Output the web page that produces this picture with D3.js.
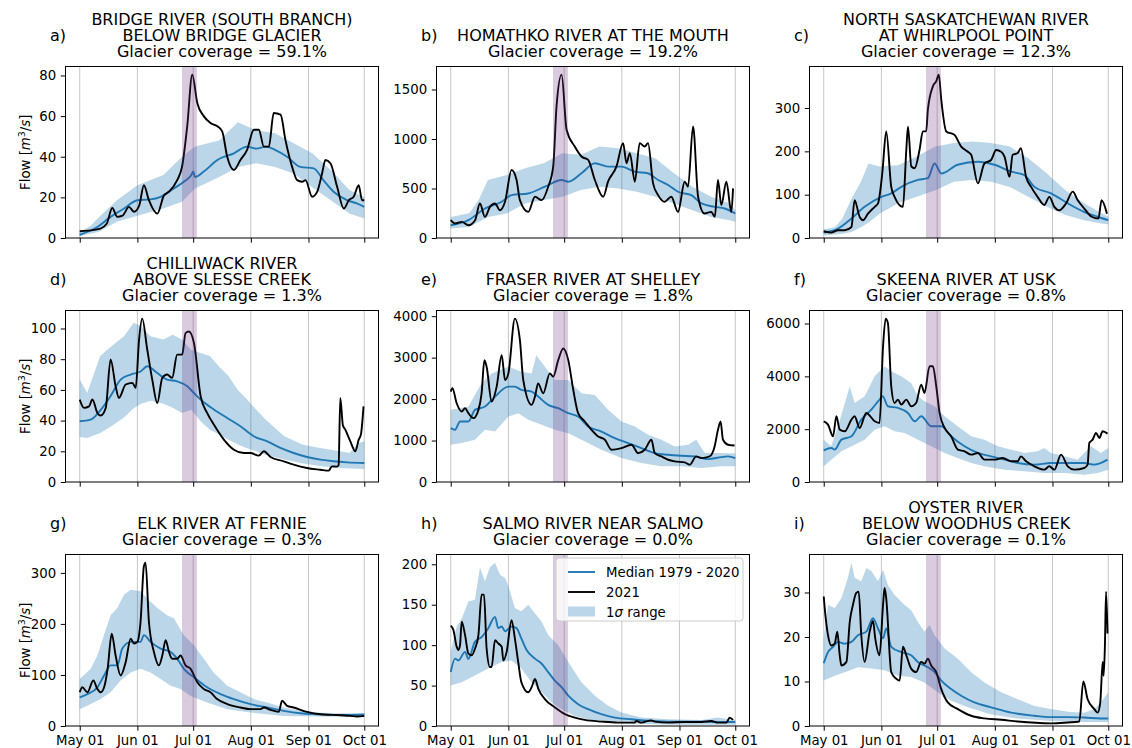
<!DOCTYPE html>
<html>
<head>
<meta charset="utf-8">
<script src="https://cdn.jsdelivr.net/npm/d3@7"></script>
<style>
  body { margin: 0; background: #fff; }
  svg { font-family: "DejaVu Sans", sans-serif; }
  .tick text { font-family: "DejaVu Sans", sans-serif; font-size: 13.3px; fill: #000; }
  .tick line { stroke: #000; stroke-width: 1; }
</style>
</head>
<body>
<svg id="chart" width="1132" height="748"></svg>
<script>
"use strict"

// days counted from May 01 2021, values in m3/s
// a) Bridge River
const medA = [[0,1.6],[9.5,5.4],[16.6,10.4],[23.8,14.5],[31,18.6],[38,19],[43.5,20.3],[50.6,24.4],[56,27.7],[60,31],[61,32.7],[62,30],[66.7,32.7],[74,38.4],[82.9,41.7],[90,45],[95,44],[100,45],[105,43.4],[111.5,40],[118.6,35],[125.8,34.3],[131,28.5],[136.5,22.8],[143.7,18.6],[149,17],[153,15.3]];
const hiA = [[0,3],[6,6],[10,10],[20,18.6],[31,26],[45,31],[55,40],[62,45],[75,48],[85,57],[95,53],[105,51.6],[115,46.7],[125,41.7],[135,33.5],[145,23.6],[153,20]];
const loA = [[0,1],[10,3],[20,8],[31,11],[45,14.5],[55,17.8],[62,24.4],[75,30],[85,35],[95,36.8],[105,35],[115,31.8],[125,25],[135,18.6],[145,12],[153,9.6]];
const obsA = [[0,3.3],[7.7,4],[11,4.6],[14.5,7],[17.5,14.8],[20.2,10.4],[23,11],[26.5,15.3],[29.2,12.9],[32,16],[34.5,26],[37.2,18.6],[41.7,12],[45.3,21],[48,22.8],[52.4,28.5],[55,35],[57.8,55],[60.5,80.4],[63.2,66.5],[66.7,60],[70.3,56.6],[74,55],[76.6,52.5],[79.3,40],[82.9,33.5],[86.4,38.4],[90,43.4],[93.6,53.3],[96.3,53.3],[99,45],[101.7,45],[104.3,61.5],[108,60.7],[110.6,48.3],[114.2,35],[116.9,28.5],[119.6,27.7],[121.4,28.5],[125,20.3],[127.7,22.8],[130.3,31.8],[132.1,38.4],[134.8,36.8],[138.4,25.2],[142,14.5],[144.7,18.6],[147.3,20.3],[150,26],[151.8,18.6],[153,18.6]];

// b) Homathko River
const medB = [[0,129],[9.5,180],[18.4,298],[27.4,366],[32.7,433],[41.7,450],[50.6,518],[59.6,586],[63.2,569],[70.3,654],[77.5,755],[84.6,721],[91.8,721],[99,670],[106,654],[111.5,586],[116.9,535],[122.2,467],[129.4,433],[134.8,349],[141.9,315],[147.3,298],[153,247]];
const hiB = [[0,213],[10,250],[15,383],[20,586],[30,637],[40,704],[50,755],[60,857],[70,840],[80,924],[90,907],[100,857],[110,806],[120,654],[130,518],[140,417],[150,349],[153,281]];
const loB = [[0,95],[10,112],[20,213],[30,247],[40,349],[50,383],[60,417],[70,484],[80,518],[90,501],[100,467],[110,417],[120,349],[130,281],[140,213],[150,180],[153,163]];
const obsB = [[0,180],[2.3,146],[5.9,163],[9.5,129],[13.1,180],[15.7,349],[18.4,213],[21.1,315],[23.8,349],[26.5,281],[29.2,366],[32.7,687],[35.4,586],[37.2,383],[41.7,264],[45.3,417],[48.9,383],[52.4,518],[55.1,721],[56.9,1331],[59.6,1650],[62.3,1094],[66.7,924],[70.3,823],[73.9,789],[77.5,586],[82,417],[84.6,569],[89.1,721],[92.7,958],[94.5,755],[96.3,857],[99,569],[101.6,958],[104.3,924],[106.1,958],[108.8,552],[111.5,433],[115,366],[118.6,417],[122.2,264],[125.8,569],[127.6,518],[130.3,1128],[133,417],[136.5,247],[140.1,264],[142,213],[143.7,586],[145.5,332],[148.2,569],[150.9,264],[151.8,501]];

// c) North Saskatchewan River
const medC = [[0,12.4],[7.7,21.6],[14.9,45],[22,72],[31,95],[36.3,103],[41.7,118],[50.6,134],[56,138],[59.6,172],[63.2,149],[72,169],[82.9,176],[91.8,169],[100.8,153],[107.9,145],[113.3,118],[122.2,103],[131.2,80],[140.1,60],[147.3,49],[153,41]];
const hiC = [[0,20],[6,25],[10,45],[15,91],[20,130],[24,172],[30,165],[40,168],[50,188],[60,211],[70,219],[80,223],[90,219],[100,211],[110,184],[120,149],[130,110],[140,80],[150,56],[153,49]];
const loC = [[0,6],[6,8],[10,10],[15,14],[20,25],[24,35],[30,56],[40,80],[50,95],[60,110],[70,130],[80,134],[90,130],[100,118],[110,95],[120,72],[130,53],[140,41],[150,33],[153,32]];
const obsC = [[0,15.5],[4.1,12.4],[7.7,18],[11.3,18],[14.9,25.5],[16.6,87],[19.3,49],[21.1,41],[23.8,56],[27.4,72],[29.2,80],[31.5,150],[33.6,246],[36.3,118],[38.1,95],[42.6,72],[44.4,203],[45.3,257],[47.1,165],[48.9,161],[51.5,203],[53.3,246],[55.1,246],[56,296],[58.7,350],[60.5,362],[61.9,377],[63.2,319],[65.9,246],[70.3,238],[73.9,211],[77.5,199],[79.3,192],[82.9,126],[86.4,172],[90,180],[92.7,203],[95.4,199],[97.2,188],[99.9,141],[101.6,192],[104.3,196],[106,207],[108.8,141],[111.5,118],[115,95],[118.6,76],[121.3,95],[124,72],[126.7,64],[130.3,80],[133.9,107],[136.6,87],[140.1,68],[144.1,49],[147.7,45],[149.4,87],[152.3,56]];

// d) Chilliwack River
const medD = [[0,39.6],[5.9,40.6],[11.3,47],[16.6,56],[22,66.7],[27.4,70],[32.7,72],[36.3,75.4],[41.7,71],[47,66.7],[52.4,65.6],[57.8,62.4],[61.4,58],[65,53.7],[72.1,47.2],[79.3,41.7],[86.4,36.3],[93.6,29.8],[100.8,26.5],[107.9,22.2],[115,18.9],[122.2,16.3],[129.4,14.6],[136.5,13.5],[143.7,12.8],[153,12.4]];
const hiD = [[0,66.7],[4,58],[11,82],[16.6,88],[23.8,95],[29,103.7],[33,101.5],[38,95],[45,92.8],[50,96],[55,92.8],[60,86],[65,84],[70,82],[75,75],[80,69],[85,60],[90,53.7],[95,47],[100,40.6],[110,29.8],[120,24.3],[130,22],[140,20],[145,18.9],[150,25.4],[153,26.5]];
const loD = [[0,29.3],[4,28.7],[11,32],[16.6,36],[23.8,42],[29,48],[33,51],[38,53],[45,51],[50,48.3],[55,45],[60,47],[65,39.6],[70,34],[75,31],[80,27.6],[85,24.5],[90,22],[95,20],[100,17.8],[110,14.6],[120,12],[130,10.2],[140,9.1],[145,8.8],[150,8.6],[153,8.5]];
const obsD = [[0,53.7],[2.3,48.3],[5,49.3],[6.8,53.7],[9.5,45],[11.3,43.3],[14,48.3],[16.6,79.8],[19.3,62.4],[21.1,54.8],[24.7,63.5],[28.3,64.6],[30.1,61.3],[31.9,92.8],[33.6,106.4],[36.3,86.3],[39,66.7],[41.7,51.5],[44.4,67.8],[47,70],[49.7,67.8],[52.4,83],[55.1,83],[56.9,97],[58.7,98],[61.4,90.7],[65,55.9],[68.5,45],[72.1,37.4],[77.5,27.6],[82.9,21],[88.2,18.9],[91.8,18.9],[96.3,17.2],[99,20],[102.6,16.3],[109.7,13.5],[115,11.3],[122.2,9.1],[129.4,8],[133.9,7.4],[135.6,10.2],[138.3,10],[139.2,11],[140.1,54.8],[141.5,37],[142.8,34.1],[145.5,26.5],[148.2,20],[150,27.6],[151.2,31],[152.6,49.3]];

// e) Fraser River
const medE = [[0,1299],[2.3,1259],[5,1459],[9.5,1459],[13,1739],[18.4,1820],[23.8,2060],[31,2300],[34.5,2300],[38,2220],[43.5,2180],[47,2060],[52.4,1860],[57.8,1780],[63.2,1659],[68.5,1579],[73.9,1339],[81,1218],[88.2,1058],[95.4,938],[102.5,818],[109.7,697],[116.9,657],[124,633],[131.2,617],[138.4,553],[145.5,601],[149.1,617],[153,577]];
const hiE = [[0,1740],[9.5,1820],[16.6,2380],[22,2620],[31,2780],[38,2660],[43.5,2620],[46,3060],[50.6,2780],[56,2460],[63.2,2460],[70.3,2140],[77.5,2100],[84.6,1740],[91.8,1460],[99,1340],[106.1,1140],[113.3,1018],[120.4,858],[127.6,898],[132,1018],[136.6,697],[143.7,700],[153,690]];
const loE = [[0,898],[5.9,938],[13,1018],[18.4,1259],[23.8,1218],[31,1580],[36.3,1660],[41.7,1500],[48.9,1380],[56,1259],[63.2,1178],[70.3,1018],[81,778],[91.8,577],[102.5,457],[113.3,377],[124,377],[134.8,337],[145.5,377],[153,377]];
const obsE = [[0,2180],[0.9,2260],[3.2,1900],[5.9,1700],[7.7,1780],[9.5,1660],[12.2,1540],[14.9,1740],[16.6,2140],[18.1,2940],[19.3,2780],[22,1940],[24.7,2300],[27.4,3060],[29.2,2460],[31,2620],[34.5,3940],[37.2,3420],[39,2460],[43.5,1860],[45.3,2060],[47,2380],[49.7,2140],[53.3,2620],[55.1,2540],[57.8,2940],[60.5,3220],[63.2,2940],[65.9,2220],[68.5,1660],[72.1,1460],[75.7,1260],[79.3,1100],[82.9,1020],[86.4,778],[91.8,818],[97.2,898],[100.8,697],[104.3,778],[107.9,1018],[109.7,697],[113.3,617],[116.9,537],[120.4,497],[125.8,473],[128.5,417],[132,617],[134.8,577],[139.2,617],[141.9,858],[143.7,1259],[145.1,1459],[146.4,1018],[149.1,898],[152.6,882]];

// f) Skeena River
const medF = [[0,1200],[4.1,1288],[5.9,1225],[9.5,1604],[14.9,1730],[20.2,2362],[25.6,2740],[30,3120],[31.7,3246],[34.5,2867],[39.9,2804],[45.3,2614],[48.9,2299],[52.4,2488],[57.8,2109],[63.2,2109],[68.5,1730],[75.7,1351],[82.9,1099],[90,972],[97.2,846],[104.3,720],[113.3,657],[122.2,720],[131.2,720],[140.1,720],[145.5,657],[152.6,846]];
const hiF = [[0,1604],[4,1350],[7.7,2109],[14,3625],[16.6,2993],[22,3246],[27.4,4004],[32.7,4383],[36.3,4193],[41.7,4004],[47,3751],[50.6,3246],[54.2,3056],[59.6,2867],[65,2488],[72,2109],[79.3,1730],[86.4,1604],[93.6,1351],[100.8,1225],[107.9,1099],[115,1162],[118.6,1288],[122.2,1099],[129.4,972],[136.5,846],[143.7,1351],[149,1099],[153,1288]];
const loF = [[0,594],[4.1,846],[9.5,1162],[14.9,1351],[22,1604],[27.4,1983],[32.7,2109],[38.1,1920],[43.5,1857],[50.6,1604],[57.8,1351],[65,1099],[72,909],[79.3,720],[86.4,594],[97.2,467],[107.9,404],[118.6,341],[129.4,341],[140.1,278],[147.3,341],[153,467]];
const obsF = [[0,2299],[2.3,2172],[5,1730],[6.8,2488],[8.6,1983],[11.3,1920],[14.9,2362],[16.6,2488],[19.3,2046],[22.9,2614],[27.4,2299],[30,2236],[31.9,5140],[33.3,6184],[34.5,6024],[36.3,3625],[38.1,2993],[39.9,3120],[41.7,2930],[44.4,3120],[47,2867],[49.7,2993],[52.4,3688],[54.2,3372],[56.9,4383],[58.7,4383],[60.5,3625],[62.3,2614],[65,2046],[68.5,1730],[72.1,1225],[75.7,1162],[79.3,1036],[82.9,1099],[86.4,846],[91.8,846],[96.3,909],[100.8,783],[104.3,783],[106,972],[108.8,783],[113.3,594],[118.6,467],[121.3,594],[124,467],[127.6,1036],[131.2,594],[134.8,467],[140.1,530],[141.9,657],[142.8,1478],[144.6,1604],[146.4,1857],[148.2,1667],[150,1920],[152.6,1831]];

// g) Elk River
const medG = [[0,56],[4.1,62.6],[9.5,75.8],[13.1,98.9],[16.6,118.7],[20.2,118.7],[22.9,151.6],[27.4,164.8],[32.7,164.8],[34.5,178],[38.1,164.8],[43.5,151.6],[48.9,145],[52.4,131.9],[56,112],[61.4,95.6],[68.5,75.8],[75.7,62.6],[82.9,52.7],[91.8,42.9],[100.8,36.3],[109.7,29.7],[118.6,25],[127.6,23],[136.6,21.8],[145.5,21.8],[153,22.4]];
const hiG = [[0,92],[5.9,112],[9.5,138],[13,178],[16.6,217],[20.2,231],[23.8,257],[27.4,267],[32.7,264],[36.3,250],[41.7,231],[47,217],[50.6,211],[56,178],[61.4,158],[66.7,132],[72,105],[79.3,79],[86.4,66],[93.6,52.7],[100.8,46],[109.7,36.3],[118.6,29.7],[127.6,26.4],[136.6,25],[153,25]];
const loG = [[0,33],[5.9,43],[11.3,52.7],[16.6,66],[22,89],[27.4,105],[32.7,112],[38,105],[43.5,92],[48.9,79],[54.2,72.5],[59.6,59],[68.5,46],[79.3,33],[91.8,26.4],[109.7,19.8],[127.6,18.5],[153,17.8]];
const obsG = [[0,66],[1.4,75.8],[4.1,66],[7.3,89],[9.5,72.5],[11.3,66],[13.1,75.8],[15,112],[17.2,181],[19.3,138],[22,98.9],[24.7,125],[27.4,171],[29.2,161.5],[31,164.8],[32.7,204],[34.5,313],[35.4,320],[37.2,204],[39.9,145],[42.6,118.7],[44.4,138],[46.2,168],[48,145],[49.7,131.9],[52.4,131.9],[54.2,138],[56.9,118.7],[59.6,112],[63.2,85.7],[66.7,72.5],[70.3,66],[73.9,52.7],[79.3,42.9],[86.4,36.3],[91.8,33],[97.2,33],[99,36.3],[102.6,31.6],[107,27.7],[108.8,49.4],[111.5,39.6],[115,36.3],[122.2,27.7],[129.4,23],[136.6,21.8],[145.5,19.8],[149.1,18.5],[153,19.8]];

// h) Salmo River
const medH = [[0,66.7],[2.3,83.3],[4.1,81],[7.7,91.7],[9.5,83],[13,104],[16.6,110],[20.2,121],[23.8,135],[25.6,121],[27.4,123],[29.2,117],[32.7,123],[35.4,121],[38,108],[40.8,94],[45.3,83.3],[48.9,77],[52.4,66.7],[56,56],[59.6,48],[63.2,37.5],[68.5,27],[73.9,20.8],[81,14.6],[88.2,10.4],[97.2,8.3],[107.9,6.25],[116.9,5.4],[125.8,5.4],[134.8,5.4],[143.7,5],[153,5]];
const hiH = [[0,92],[3.2,123],[5.9,133],[9.5,154],[13,156],[15.7,196],[18.4,179],[21,196],[23.8,202],[26.5,187],[29.2,183],[31,173],[34.5,146],[38,142],[41.7,150],[44.4,142],[48.9,129],[52.4,112.5],[57.8,100],[63.2,79],[70.3,54],[77.5,37.5],[84.6,25],[91.8,16.7],[102.5,10.4],[116.9,8.3],[134.8,7.5],[143.7,10.4],[153,7.5]];
const loH = [[0,50],[5.9,54],[13,62.5],[20.2,71],[27.4,79],[32.7,81],[38,71],[43.5,54],[48.9,41.7],[54.2,29],[59.6,20.8],[66.7,12.5],[77.5,6.25],[91.8,3.3],[107.9,2.1],[125.8,1.7],[153,1.7]];
const obsH = [[0,124],[1.4,119],[3.2,98],[4.1,94],[5,100],[5.9,129],[7.7,112.5],[9.5,89.6],[11.3,87.5],[13.1,96],[14.9,112.5],[16.6,162.5],[17.9,162.5],[19.3,96],[21.1,73],[22,73],[23.8,106],[25.6,102],[27.4,98],[28.3,81],[30.1,92],[32.7,131],[34.5,108],[36.3,79],[38,54],[41.7,41.7],[43.5,48],[45.3,58.3],[47.1,46],[50.6,33.3],[56,23],[61.4,14.6],[66.7,10.4],[72.1,7.5],[81,5.4],[89.9,4.2],[98.9,4.2],[99.8,6.2],[102.5,4.2],[107.9,7],[109.7,5.4],[116.9,4.2],[125.8,5],[134.8,5],[140.1,6.2],[143.7,4.2],[148.2,4.2],[150,10.4],[151.8,7.5]];

// i) Oyster River
const medI = [[0,14.1],[2.3,16.6],[5,17.8],[7.7,18.9],[11.3,18.5],[14.9,18.9],[18.4,20.4],[22.9,21.2],[26.5,24.2],[29.2,21.9],[31.9,19.7],[33.6,21.9],[36.3,17.8],[41.7,16.6],[47,15.9],[50.6,14.4],[56,13.2],[59.6,12.1],[63.2,10.2],[68.5,8.3],[73.9,6.8],[81,5.3],[90,4.2],[100.8,3],[113.3,2.3],[122.2,2],[131.2,2],[140.1,1.9],[149.1,1.7],[153,1.7]];
const hiI = [[0,19.7],[2.3,27.2],[5.9,26.5],[9.5,28.7],[13,33.3],[14.9,36.7],[16.6,33.3],[20.2,32.5],[22.9,35.5],[25.6,34.8],[29.2,32.5],[31.9,35.1],[34.5,31.7],[38,29.5],[43.5,27.2],[47,26],[50.6,23.4],[54.2,21.2],[56.9,22.7],[59.6,20.4],[65,17.4],[72.1,15.1],[79.3,12.1],[86.4,9.8],[95.4,7.6],[104.3,6],[113.3,4.5],[122.2,3.8],[131.2,3.2],[140.1,3],[145.5,3.8],[149,5.3],[153,7.6]];
const loI = [[0,10.2],[5.9,11.3],[11.3,12.1],[18.4,13.2],[25.6,12.9],[32.7,12.5],[39.9,11.3],[47,11],[54.2,9.8],[61.4,7.6],[68.5,5.7],[77.5,4.2],[90,2.6],[104.3,1.7],[122.2,1.1],[140.1,0.9],[153,0.9]];
const obsI = [[0,29.1],[0.9,24.9],[2.3,20.4],[4.1,18.1],[5.9,18.5],[7.3,21.2],[8.6,15.9],[9.5,13.6],[12.2,14.4],[14,23.4],[15.7,27.2],[17.5,29.9],[18.8,30.2],[20.2,20.4],[22,14.4],[24.7,21.2],[26.5,23.6],[27.7,19.7],[30,15.9],[31.9,27.2],[32.7,31],[33.6,28.7],[36.3,12.1],[39,10.6],[40.8,10.2],[42.6,17.8],[44.4,15.9],[47,12.9],[49.7,12.1],[52.4,14.4],[54.2,14],[56,15.1],[57.8,13.6],[60.5,12.1],[63.2,8.3],[66.7,5.3],[72.1,3.8],[79.3,2.3],[86.4,1.7],[95.4,1.4],[104.3,1],[122.2,0.6],[131.2,0.8],[137.4,1],[139.6,10],[141.9,6],[145.5,3.8],[147.3,3],[148.7,5.3],[150,14.4],[150.5,11.3],[151.2,18.1],[151.8,30.2],[152.6,20.8]];

// y tick values per panel
const ticksA = [0,20,40,60,80];
const ticksB = [0,500,1000,1500];
const ticksC = [0,100,200,300];
const ticksD = [0,20,40,60,80,100];
const ticksE = [0,1000,2000,3000,4000];
const ticksF = [0,2000,4000,6000];
const ticksG = [0,100,200,300];
const ticksH = [0,50,100,150,200];
const ticksI = [0,10,20,30];

const titles = [
  ["BRIDGE RIVER (SOUTH BRANCH)", "BELOW BRIDGE GLACIER", "Glacier coverage = 59.1%"],
  ["HOMATHKO RIVER AT THE MOUTH", "Glacier coverage = 19.2%"],
  ["NORTH SASKATCHEWAN RIVER", "AT WHIRLPOOL POINT", "Glacier coverage = 12.3%"],
  ["CHILLIWACK RIVER", "ABOVE SLESSE CREEK", "Glacier coverage = 1.3%"],
  ["FRASER RIVER AT SHELLEY", "Glacier coverage = 1.8%"],
  ["SKEENA RIVER AT USK", "Glacier coverage = 0.8%"],
  ["ELK RIVER AT FERNIE", "Glacier coverage = 0.3%"],
  ["SALMO RIVER NEAR SALMO", "Glacier coverage = 0.0%"],
  ["OYSTER RIVER", "BELOW WOODHUS CREEK", "Glacier coverage = 0.1%"]
];
const tags = ["a)","b)","c)","d)","e)","f)","g)","h)","i)"];
const heatDome = [55, 63]; // Jun 25 - Jul 03

const panels = [
  {med: medA, hi: hiA, lo: loA, obs: obsA, ticks: ticksA},
  {med: medB, hi: hiB, lo: loB, obs: obsB, ticks: ticksB},
  {med: medC, hi: hiC, lo: loC, obs: obsC, ticks: ticksC},
  {med: medD, hi: hiD, lo: loD, obs: obsD, ticks: ticksD},
  {med: medE, hi: hiE, lo: loE, obs: obsE, ticks: ticksE},
  {med: medF, hi: hiF, lo: loF, obs: obsF, ticks: ticksF},
  {med: medG, hi: hiG, lo: loG, obs: obsG, ticks: ticksG},
  {med: medH, hi: hiH, lo: loH, obs: obsH, ticks: ticksH},
  {med: medI, hi: hiI, lo: loI, obs: obsI, ticks: ticksI}
];

const MAY1 = Date.UTC(2021, 4, 1);
const toDate = d => new Date(MAY1 + d * 864e5);
const monthTicks = d3.utcMonth.range(toDate(0), toDate(154));

const colLeft = [65.5, 436.5, 809.5];
const rowTop = [66.5, 310.5, 554.5];
const W = 313, H = 171.5;
const blue = "#1f77b4";

const svg = d3.select("#chart");

panels.forEach((p, i) => drawPanel(p, i));
drawLegend();

function drawPanel(p, i){
  const col = i % 3, row = Math.floor(i / 3);
  const left = colLeft[col], top = rowTop[row];

  const x = d3.scaleUtc()
    .domain([toDate(-7.65), toDate(160.65)])
    .range([left, left + W]);
  const yMax = d3.max(p.hi.concat(p.obs, p.med), d => d[1]) * 1.05;
  const y = d3.scaleLinear().domain([0, yMax]).range([top + H, top]);

  const g = svg.append("g");

  // vertical grid at month starts
  g.selectAll(".grid")
    .data(monthTicks)
    .enter().append("line")
    .attr("x1", d => x(d)).attr("x2", d => x(d))
    .attr("y1", top).attr("y2", top + H)
    .attr("stroke", "#c6c6c6")
    .attr("stroke-width", 1);

  const line = d3.line()
    .x(d => x(toDate(d[0])))
    .y(d => y(d[1]));
  const smooth = d3.line()
    .curve(d3.curveMonotoneX)
    .x(d => x(toDate(d[0])))
    .y(d => y(d[1]));

  // 1 sigma band: upper edge then lower edge reversed
  g.append("path")
    .attr("d", line(p.hi.concat(p.lo.slice().reverse())) + "Z")
    .attr("fill", blue)
    .attr("fill-opacity", 0.3);

  g.append("path")
    .attr("d", smooth(p.med))
    .attr("fill", "none")
    .attr("stroke", blue)
    .attr("stroke-width", 1.9)
    .attr("stroke-linejoin", "round");

  g.append("path")
    .attr("d", smooth(p.obs))
    .attr("fill", "none")
    .attr("stroke", "#000")
    .attr("stroke-width", 1.9)
    .attr("stroke-linejoin", "round");

  // heat dome span
  g.append("rect")
    .attr("x", x(toDate(heatDome[0])))
    .attr("width", x(toDate(heatDome[1])) - x(toDate(heatDome[0])))
    .attr("y", top)
    .attr("height", H)
    .attr("fill", "rgb(112,48,128)")
    .attr("fill-opacity", 0.25);

  // axes
  const xAxis = d3.axisBottom(x)
    .tickValues(monthTicks)
    .tickSize(4.7)
    .tickPadding(4.7)
    .tickFormat(row === 2 ? d3.utcFormat("%b %d") : "");
  g.append("g")
    .attr("transform", "translate(0," + (top + H) + ")")
    .call(xAxis)
    .call(a => a.select(".domain").remove());

  const yAxis = d3.axisLeft(y)
    .tickValues(p.ticks)
    .tickSize(4.7)
    .tickPadding(4.7)
    .tickFormat(d3.format("d"));
  g.append("g")
    .attr("transform", "translate(" + left + ",0)")
    .call(yAxis)
    .call(a => a.select(".domain").remove());

  // frame
  g.append("rect")
    .attr("x", left).attr("y", top)
    .attr("width", W).attr("height", H)
    .attr("fill", "none")
    .attr("stroke", "#000")
    .attr("stroke-width", 1);

  // title lines, stacked upward from the axes
  const lines = titles[i];
  g.selectAll(".title")
    .data(lines)
    .enter().append("text")
    .attr("x", left + W / 2)
    .attr("y", (d, k) => top - 10 - (lines.length - 1 - k) * 15.6)
    .attr("text-anchor", "middle")
    .attr("font-size", "16px")
    .attr("fill", "#000")
    .text(d => d);

  g.append("text")
    .attr("x", left - 15.5)
    .attr("y", top - 25.5)
    .attr("font-size", "16px")
    .attr("fill", "#000")
    .text(tags[i]);

  if (col === 0) {
    const lab = g.append("text")
      .attr("transform", "translate(30," + (top + H / 2) + ") rotate(-90)")
      .attr("text-anchor", "middle")
      .attr("font-size", "13.3px")
      .attr("fill", "#000");
    lab.append("tspan").text("Flow [");
    lab.append("tspan").attr("font-style", "italic").text("m");
    lab.append("tspan").attr("font-size", "9.5px").attr("dy", -5).text("3");
    lab.append("tspan").attr("dy", 5).text("/");
    lab.append("tspan").attr("font-style", "italic").text("s");
    lab.append("tspan").text("]");
  }
}

function drawLegend(){
  const right = colLeft[1] + W - 6.5;
  const top = rowTop[2] + 3.5;
  const lw = 187, lh = 63;
  const lx = right - lw;
  const lg = svg.append("g");

  lg.append("rect")
    .attr("x", lx).attr("y", top)
    .attr("width", lw).attr("height", lh)
    .attr("rx", 3)
    .attr("fill", "#fff")
    .attr("fill-opacity", 0.8)
    .attr("stroke", "#cccccc")
    .attr("stroke-width", 1);

  const entries = [
    {label: "Median 1979 - 2020", kind: "line", color: blue},
    {label: "2021", kind: "line", color: "#000"},
    {label: "range", kind: "patch", color: blue}
  ];
  const rowsY = [14, 34, 53.5];

  entries.forEach((e, k) => {
    const cy = top + rowsY[k];
    if (e.kind === "line") {
      lg.append("line")
        .attr("x1", lx + 12).attr("x2", lx + 39)
        .attr("y1", cy).attr("y2", cy)
        .attr("stroke", e.color)
        .attr("stroke-width", 1.9);
    } else {
      lg.append("rect")
        .attr("x", lx + 12).attr("y", cy - 5)
        .attr("width", 27).attr("height", 10)
        .attr("fill", e.color)
        .attr("fill-opacity", 0.3);
    }
    const t = lg.append("text")
      .attr("x", lx + 50)
      .attr("y", cy + 5)
      .attr("font-size", "13.3px")
      .attr("fill", "#000");
    if (e.kind === "patch") {
      t.append("tspan").text("1");
      t.append("tspan").attr("font-style", "italic").text("\u03c3");
      t.append("tspan").text(" " + e.label);
    } else {
      t.text(e.label);
    }
  });
}
</script>
</body>
</html>
